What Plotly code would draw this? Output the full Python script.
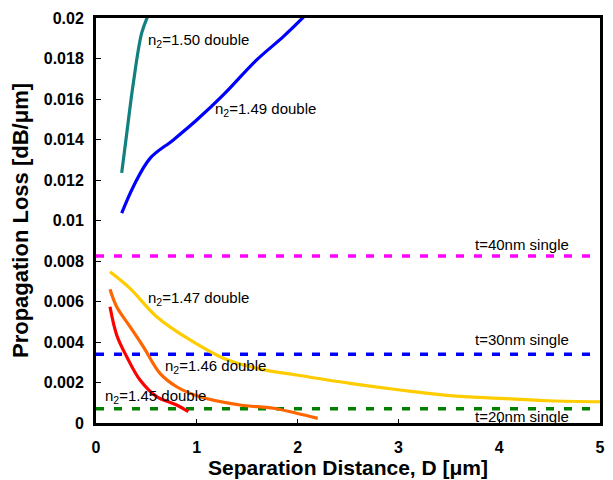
import plotly.graph_objects as go

# Data
d150 = [0.255, 0.305, 0.37, 0.453, 0.519]
l150 = [0.01235, 0.0143, 0.01678, 0.01925, 0.02015]

d149 = [0.255, 0.37, 0.536, 0.767, 0.999, 1.263, 1.594, 1.858, 2.09]
l149 = [0.01036, 0.01167, 0.01307, 0.01398, 0.01496, 0.0162, 0.01793, 0.01908, 0.0202]

d147 = [0.139, 0.337, 0.602, 0.933, 1.263, 1.594, 1.99, 2.52, 3.016, 3.51, 4.01, 4.5, 5.0]
l147 = [0.00747, 0.00665, 0.00525, 0.0041, 0.0032, 0.0027, 0.00237, 0.00196, 0.00163, 0.00135, 0.00122, 0.0011, 0.00105]

d146 = [0.139, 0.205, 0.337, 0.469, 0.635, 0.8, 1.03, 1.43, 1.76, 1.99, 2.2]
l146 = [0.0066, 0.00574, 0.00476, 0.00377, 0.00245, 0.00179, 0.0013, 0.00089, 0.00073, 0.00048, 0.00023]

d145 = [0.139, 0.205, 0.305, 0.437, 0.602, 0.8, 0.916]
l145 = [0.00574, 0.00435, 0.00327, 0.00212, 0.0013, 0.00089, 0.00056]

single_x = [0, 5]
single40 = 0.00825
single30 = 0.0034
single20 = 0.0007

y_ticks = [0, 0.002, 0.004, 0.006, 0.008, 0.01, 0.012, 0.014, 0.016, 0.018, 0.02]
y_ticktext = ["0", "0.002", "0.004", "0.006", "0.008", "0.01", "0.012", "0.014", "0.016", "0.018", "0.02"]
x_ticks = [0, 1, 2, 3, 4, 5]

labels = [
    ("n<sub>2</sub>=1.50 double", 0.5, 0.01890),
    ("n<sub>2</sub>=1.49 double", 1.16, 0.01547),
    ("n<sub>2</sub>=1.47 double", 0.5, 0.00617),
    ("n<sub>2</sub>=1.46 double", 0.66, 0.00277),
    ("n<sub>2</sub>=1.45 double", 0.065, 0.00133),
    ("t=40nm single", 3.74, 0.00880),
    ("t=30nm single", 3.74, 0.00410),
    ("t=20nm single", 3.74, 0.00030),
]

FONT = "Liberation Sans, Arial, sans-serif"

fig = go.Figure()

def curve(x, y, color):
    fig.add_trace(go.Scatter(x=x, y=y, mode="lines", line=dict(color=color, width=3.2, shape="spline"),
                             showlegend=False, hoverinfo="skip"))

def hline(y, color):
    fig.add_trace(go.Scatter(x=single_x, y=[y, y], mode="lines",
                             line=dict(color=color, width=3.5, dash="8px,10px"),
                             showlegend=False, hoverinfo="skip"))

hline(single40, "#ff00ff")
hline(single30, "#0000ff")
hline(single20, "#008000")
curve(d150, l150, "#138080")
curve(d149, l149, "#0000ff")
curve(d147, l147, "#ffcc00")
curve(d146, l146, "#ff6600")
curve(d145, l145, "#ff0000")

for text, x, y in labels:
    fig.add_annotation(x=x, y=y, text=text, showarrow=False, xanchor="left", yanchor="middle",
                       font=dict(family=FONT, size=15, color="black"))

fig.update_layout(
    width=613, height=480,
    margin=dict(l=96, r=13, t=18, b=57),
    paper_bgcolor="white", plot_bgcolor="white",
    font=dict(family=FONT, color="black"),
)
fig.update_xaxes(
    range=[0, 5], tickvals=x_ticks, ticks="inside", ticklen=4, tickwidth=1, tickcolor="black",
    showline=True, linecolor="black", linewidth=3, mirror=True, showgrid=False, zeroline=False,
    automargin=False,
    tickfont=dict(size=16, family=FONT, weight="bold"), ticklabelstandoff=8,
    title=dict(text="<b>Separation Distance, D [μm]</b>", font=dict(size=21), standoff=4),
)
fig.update_yaxes(
    range=[0, 0.02], tickvals=y_ticks, ticktext=y_ticktext, ticks="inside", ticklen=5, tickwidth=1,
    tickcolor="black", showline=True, linecolor="black", linewidth=3, mirror=True, showgrid=False,
    zeroline=False, automargin=False,
    tickfont=dict(size=16, family=FONT, weight="bold"), ticklabelstandoff=6,
    title=dict(text="<b>Propagation Loss [dB/μm]</b>", font=dict(size=22), standoff=10),
)

post = (
    "document.documentElement.style.overflow='hidden';"
    "document.documentElement.style.margin='0';"
    "document.body.style.margin='0';"
    "document.body.style.padding='0';"
    "document.body.style.overflow='hidden';"
    "document.body.style.height='480px';"
    "var gd=document.getElementById('{plot_id}');"
    "if(gd&&gd.parentElement){gd.parentElement.style.lineHeight='0';gd.parentElement.style.height='480px';}"
)

fig.write_html("out.html", config={"displayModeBar": False}, post_script=post)
